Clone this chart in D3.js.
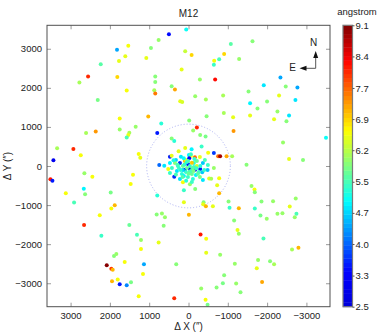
<!DOCTYPE html>
<html>
<head>
<meta charset="utf-8">
<script src="https://cdn.jsdelivr.net/npm/d3@7"></script>
<style>
  body { margin: 0; background: #fff; }
  svg text { font-family: "Liberation Sans", Arial, sans-serif; fill: #222; }
</style>
</head>
<body>
<div id="chart"></div>
<script>
// offsets from cluster centre (arcsec) and wavelength value (angstrom)
const dx = [
  1532, 1819, 1608, 1768, 2233, 2555, 1811, 2776, 1572, 2309, 1750, 2360, 2606, 1344, 1750, 1506, 1532, 1572, 3343, 2929, 2741, 3437, 1267, 1227,
  58, 498, 760, -1077, 955, 1074, 84, -79, -653, -907, -780, -645, -1288, 175, -678, 846, 846, -290, 429, 345, 871, 846, -170, 211, 160, -442, -881, -899, -460, -1135, 1024, -18, 693, -213, -1146, -119, 795, -297, -434, 429, 363, -333, 84, 251, -500, -645, -754, -805, -968, -1110, -3498, -2405, -2913, -2558, -1476,
  -1628, -2339, -1915, -2474, -2771, -1527, -2304, -2720, -1567, -1999, -1755, -2263, -1567, -2558, -2177, -2492,
  3513, 3462, 2649, 2446, 1412, 1471, 3122, 2664, 2631, 1979, 2911, 1877, 1963, 2258, 2657, 1506, 2217, 1311, 1209, 1209, 1895, 1836, 1623, 2080, 1963, 1928, 1133, 1158, 1801, 1946, 1750, 1572, 1463, 1267,
  363, -526, -577, -780, 142, -36, -170, 117, -729, -780, 795, 117, -384, -373, -442, -620, -1019, -1044, -1280, 810, 676, 599, -10, 632, -1161, -1247, -1280, -307, -450, 760, -450, -805, -1179, 312, -907, -874, -1212, -714, -323, 363, -434, -485,
  -1603, -1679, -1687, -1857, -2151, -2728, -2576, -1687, -1831, -1991, -2263, -2390, -2746, -2703, -1907, -2634, -2797, -1770, -1737, -2075, -2177, -1872, -1323,
  472, -163, 193, -10, -61, -290, 744, 617, 516, 91, -36, -170, -297, -348, -485, -645, 91, 218, 15, 320, 269, 142, -36, -137, -213, -366, 66, -86, 168, 295, 422, -188, 15, 218, -112, -290, 472, 66, -417, 345, -264, 117, -61, 41, 142, -137, 244, -213, -79, -86, -366, 429, 472, -493, -18, -86,
  -25, 100, -100, 200, -200, 40, 150, -150, 280, -300, 0, 120, -60, 320, -240, 60, -400, 380, -130, 10
];
const dy = [
  3078, 2976, 2805, 2685, 2601, 2287, 2277, 2134, 1930, 1691, 1216, 885, 842, 1002, 936, 849, 790, 732, 451, 433, 273, 145, 306, 212,
  3493, 3374, 3221, 3119, 3017, 2762, 2933, 2838, 2695, 2864, 2729, 2593, 2736, 2466, 2211, 2287, 2150, 2211, 2040, 1956, 1938, 1854, 1785, 1658, 1640, 1701, 1803, 1359, 1275, 1250, 1267, 1165, 1089, 987, 893, 910, 842, 791, 757, 706, 638, 502, 459, 375, 339, 332, 247, 247, 247, 247, 722, 604, 153, 178, 33,
  3195, 2262, 2066, 2032, 2007, 1905, 1803, 1691, 1606, 1650, 1471, 1395, 1293, 1293, 1199, 1148,
  -339, -375, -186, -273, -222, -459, -696, -579, -722, -681, -936, -1002, -1089, -1257, -1512, -1512, -1785, -1760, -1895, -2124, -2303, -2252, -2456, -2542, -2627, -2652, -2517, -2762, -2907, -2950, -3027, -3052, -2976, -3333,
  -273, -318, -325, -314, -416, -467, -587, -620, -492, -696, -757, -926, -926, -977, -1028, -1028, -910, -1071, -1079, -1242, -1216, -1309, -1250, -1530, -1394, -1640, -1734, -1751, -1861, -1955, -2219, -2270, -2499, -2517, -2797, -3001, -3009, -3111, -3137, -3384, -3425, -3552,
  -510, -604, -672, -910, -900, -834, -1038, -1089, -1267, -1352, -1224, -1207, -1224, -1309, -1853, -2134, -2091, -2405, -2619, -2440, -2517, -2966, -3231,
  237, 222, 237, 281, 255, 230, 26, 8, -77, -94, -77, -94, -77, -161, -102, -51, 128, 77, 51, 153, 0, 0, 0, 77, 0, 77, -153, -204, -204, -128, -51, -230, -281, -332, -332, -281, -179, 153, 153, 77, -153, -255, -128, -51, -102, -26, -51, 128, 426, -408, -357, 263, 77, 26, 196, 84,
  -150, 40, -50, -100, -60, 100, -280, 180, 30, 0, -200, 200, 300, -220, -200, -380, -100, 150, -130, 130
];
const lam = [
  6.6, 4.4, 6.5, 6.5, 5.5, 8.0, 6.9, 6.1, 6.6, 5.7, 6.6, 7.3, 6.1, 6.0, 6.0, 6.1, 6.5, 5.4, 6.1, 8.0, 6.6, 3.0, 6.6, 6.5,
  5.0, 3.4, 6.0, 5.5, 5.8, 6.5, 6.3, 6.9, 6.6, 6.9, 5.4, 5.3, 6.0, 6.5, 8.2, 5.9, 5.8, 6.0, 5.8, 7.2, 6.1, 7.5, 6.0, 6.5, 6.4, 6.1, 6.1, 6.1, 5.9, 6.5, 7.1, 5.8, 5.2, 8.0, 7.3, 6.0, 3.5, 5.9, 5.7, 5.9, 5.2, 5.3, 6.5, 6.5, 6.6, 3.7, 7.6, 8.8, 7.2, 6.1, 5.0, 6.0, 5.8, 6.5, 5.8,
  5.8, 4.4, 4.8, 5.8, 4.4, 5.9, 6.5, 4.8, 4.9, 5.8, 5.9, 6.0, 6.5, 4.8, 6.5, 5.8,
  8.1, 3.5, 6.0, 6.6, 6.6, 6.6, 6.6, 4.9, 5.8, 5.7, 5.4, 7.1, 6.6, 6.6, 8.0, 5.6, 5.3, 5.4, 6.0, 6.6, 5.9, 6.0, 6.6, 9.0, 7.9, 7.1, 4.4, 6.6, 6.6, 7.1, 3.5, 4.2, 5.7, 6.6,
  3.6, 6.5, 6.1, 6.6, 6.6, 6.0, 5.8, 5.3, 6.5, 7.1, 5.2, 6.5, 5.9, 6.5, 7.1, 6.5, 5.9, 5.3, 7.1, 5.8, 6.0, 6.0, 7.1, 5.8, 5.8, 6.5, 6.0, 8.1, 6.6, 6.5, 6.5, 6.0, 6.0, 5.8, 5.8, 5.7, 6.0, 5.8, 6.0, 8.0, 6.6, 5.7,
  6.0, 6.6, 5.8, 5.9, 6.0, 6.0, 6.5, 5.3, 5.7, 6.0, 6.0, 6.0, 5.4, 6.0, 5.4, 6.1, 7.1, 6.0, 6.5, 5.8, 6.1, 7.2, 5.8,
  3.5, 7.6, 4.8, 4.9, 6.5, 6.5, 4.0, 4.8, 6.6, 3.3, 3.0, 3.4, 3.5, 4.6, 4.6, 6.0, 7.1, 3.6, 3.2, 4.7, 5.2, 5.6, 5.3, 5.2, 6.4, 4.6, 5.3, 5.6, 5.2, 4.8, 5.3, 4.9, 5.3, 4.8, 5.2, 5.7, 5.3, 6.6, 5.4, 5.8, 5.3, 4.9, 5.4, 5.6, 4.7, 5.3, 5.3, 5.6, 4.9, 5.3, 4.8, 6.5, 4.9, 5.3, 3.3, 7.0,
  5.4, 5.3, 5.5, 5.2, 5.3, 5.2, 5.5, 5.3, 5.4, 5.2, 5.6, 5.0, 5.3, 5.4, 5.5, 5.2, 5.3, 5.1, 5.7, 5.4
];

const xTicks = [3000, 2000, 1000, 0, -1000, -2000, -3000];
const yTicks = [-3000, -2000, -1000, 0, 1000, 2000, 3000];
const cbTicks = [2.5, 3.23, 3.97, 4.7, 5.43, 6.17, 6.9, 7.63, 8.37, 9.1];
const cbLabels = ["2.5", "3.3", "4.0", "4.7", "5.5", "6.2", "6.9", "7.7", "8.4", "9.1"];
const circleRadius = 1065;

const W = 382, H = 335;
const plot = { left: 47, right: 330, top: 25.3, bottom: 306.7 };
const cb = { left: 343, right: 352.5 };
const nColors = 64;
const cmin = 2.5, cmax = 9.1;

// jet-like colormap, quantised; low end kept at a bright blue
const jet = (t) => {
  const k = (v) => Math.round(255 * Math.max(0, Math.min(1, v)));
  const b = t < 0.125 ? 0.85 + t * 1.2 : 1.5 - Math.abs(4 * t - 1);
  return d3.rgb(k(1.5 - Math.abs(4 * t - 3)), k(1.5 - Math.abs(4 * t - 2)), k(b));
};
const colorOf = (v) => {
  let i = Math.floor((v - cmin) / (cmax - cmin) * nColors);
  i = Math.max(0, Math.min(nColors - 1, i));
  return jet((i + 0.5) / nColors);
};

const svg = d3.select("#chart").append("svg").attr("width", W).attr("height", H);

const x = d3.scaleLinear().domain([3600, -3600]).range([plot.left, plot.right]);
const y = d3.scaleLinear().domain([-3600, 3600]).range([plot.bottom, plot.top]);
const cScale = d3.scaleLinear().domain([cmin, cmax]).range([plot.bottom, plot.top]);

// Title
svg.append("text").attr("x", x(0)).attr("y", 17).attr("text-anchor", "middle")
  .style("font-size", "10px").text("M12");

// dotted circle
svg.append("circle")
  .attr("cx", x(0)).attr("cy", y(0))
  .attr("r", x(0) - x(circleRadius))
  .attr("fill", "none").attr("stroke", "#a9aef2").attr("stroke-width", 1)
  .attr("stroke-dasharray", "1,2");

// points
const pts = dx.map((d, i) => ({ x: d, y: dy[i], v: lam[i] }));
svg.append("g").selectAll("circle").data(pts).enter().append("circle")
  .attr("cx", (d) => x(d.x)).attr("cy", (d) => y(d.y)).attr("r", 2)
  .attr("fill", (d) => colorOf(d.v));

// axes
const fmt = d3.format("d");
const axBottom = svg.append("g").attr("transform", "translate(0," + plot.bottom + ")")
  .call(d3.axisBottom(x).tickValues(xTicks).tickSizeInner(-4).tickSizeOuter(0).tickPadding(6).tickFormat((d) => fmt(d)));
const axLeft = svg.append("g").attr("transform", "translate(" + plot.left + ",0)")
  .call(d3.axisLeft(y).tickValues(yTicks).tickSizeInner(-4).tickSizeOuter(0).tickPadding(5).tickFormat((d) => fmt(d)));
const axTop = svg.append("g").attr("transform", "translate(0," + plot.top + ")")
  .call(d3.axisTop(x).tickValues(xTicks).tickSizeInner(-4).tickSizeOuter(0).tickFormat(""));
const axRight = svg.append("g").attr("transform", "translate(" + plot.right + ",0)")
  .call(d3.axisRight(y).tickValues(yTicks).tickSizeInner(-4).tickSizeOuter(0).tickFormat(""));

[axBottom, axLeft, axTop, axRight].forEach((g) => {
  g.select(".domain").remove();
  g.selectAll(".tick line").attr("stroke", "#9a9a9a");
  g.selectAll(".tick text").style("font-size", "9.5px").style("font-family", "Liberation Sans, Arial, sans-serif").attr("fill", "#222");
});

svg.append("rect")
  .attr("x", plot.left).attr("y", plot.top)
  .attr("width", plot.right - plot.left).attr("height", plot.bottom - plot.top)
  .attr("fill", "none").attr("stroke", "#505050").attr("stroke-width", 1);

// axis labels
svg.append("text").attr("x", x(0)).attr("y", 330).attr("text-anchor", "middle")
  .style("font-size", "10px").text("\u0394 X (\u2033)");
svg.append("text").attr("transform", "translate(11," + y(0) + ") rotate(-90)")
  .attr("text-anchor", "middle").style("font-size", "10px").text("\u0394 Y (\u2033)");

// compass
const cx0 = 315.7, cy0 = 68.3;
svg.append("line").attr("x1", cx0).attr("y1", cy0).attr("x2", cx0).attr("y2", 54)
  .attr("stroke", "#555").attr("stroke-width", 1);
svg.append("line").attr("x1", cx0).attr("y1", cy0).attr("x2", 303).attr("y2", cy0)
  .attr("stroke", "#555").attr("stroke-width", 1);
svg.append("path").attr("d", `M${cx0},51 L${cx0 - 2.5},58 L${cx0 + 2.5},58 Z`).attr("fill", "#111");
svg.append("path").attr("d", `M299.5,${cy0} L306.5,${cy0 - 2.5} L306.5,${cy0 + 2.5} Z`).attr("fill", "#111");
svg.append("text").attr("x", 313.5).attr("y", 45.5).attr("text-anchor", "middle").style("font-size", "10px").text("N");
svg.append("text").attr("x", 292.5).attr("y", 71).attr("text-anchor", "middle").style("font-size", "10px").text("E");

// colorbar
const bands = d3.range(nColors);
const bandH = (plot.bottom - plot.top) / nColors;
svg.append("g").selectAll("rect").data(bands).enter().append("rect")
  .attr("x", cb.left).attr("width", cb.right - cb.left)
  .attr("y", (i) => cScale(cmin + (i + 1) * (cmax - cmin) / nColors))
  .attr("height", bandH + 0.4)
  .attr("fill", (i) => jet((i + 0.5) / nColors));
svg.append("rect").attr("x", cb.left).attr("y", plot.top)
  .attr("width", cb.right - cb.left).attr("height", plot.bottom - plot.top)
  .attr("fill", "none").attr("stroke", "#7a7a7a").attr("stroke-width", 1.2);

const cbAxis = svg.append("g").attr("transform", "translate(" + cb.right + ",0)")
  .call(d3.axisRight(cScale).tickValues(cbTicks).tickSizeInner(2).tickSizeOuter(0).tickPadding(1)
    .tickFormat((d, i) => cbLabels[i]));
cbAxis.select(".domain").remove();
cbAxis.selectAll(".tick line").attr("stroke", "#555");
cbAxis.selectAll(".tick text").style("font-size", "9.5px").style("font-family", "Liberation Sans, Arial, sans-serif").attr("fill", "#222");

svg.append("text").attr("x", 357).attr("y", 15).attr("text-anchor", "middle")
  .style("font-size", "9.5px").text("angstrom");
</script>
</body>
</html>
